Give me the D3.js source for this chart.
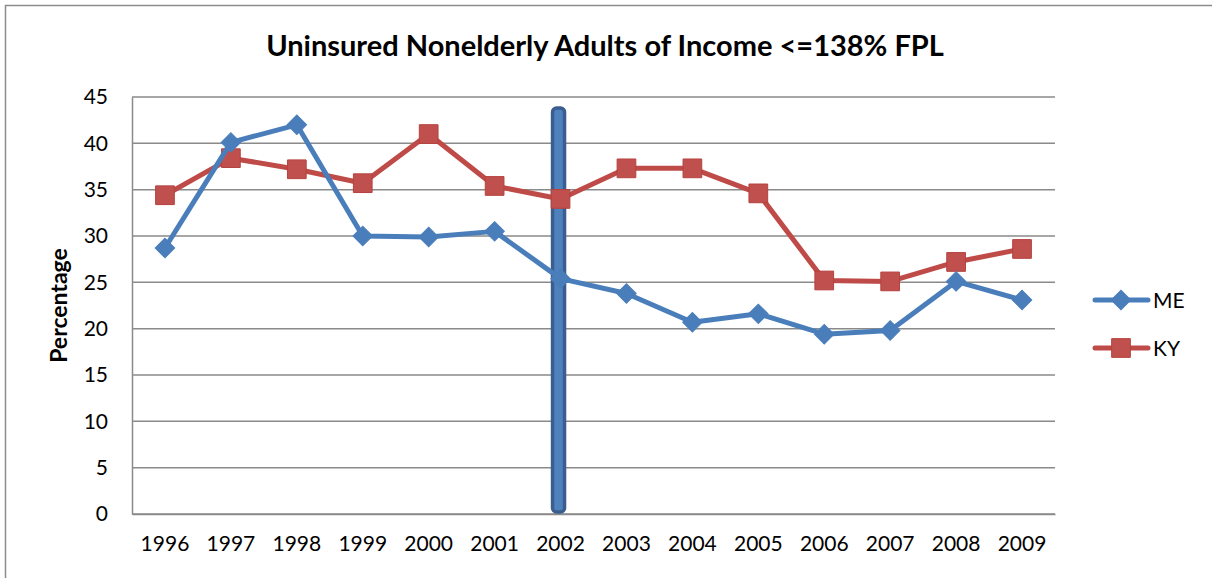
<!DOCTYPE html>
<html>
<head>
<meta charset="utf-8">
<title>Uninsured Nonelderly Adults</title>
<script src="https://cdn.jsdelivr.net/npm/d3@7"></script>
<style>
  body { margin: 0; background: #fff; }
  text { font-family: Lato, "Open Sans", sans-serif; fill: #000; }
</style>
</head>
<body>
<script>
// data
var years = ["1996","1997","1998","1999","2000","2001","2002","2003","2004","2005","2006","2007","2008","2009"];
var meValues = [28.7, 40.1, 42.0, 30.0, 29.9, 30.5, 25.4, 23.8, 20.7, 21.6, 19.4, 19.8, 25.1, 23.1];
var kyValues = [34.4, 38.4, 37.2, 35.7, 41.0, 35.4, 34.0, 37.3, 37.3, 34.6, 25.2, 25.1, 27.2, 28.6];
var yTicks = [0, 5, 10, 15, 20, 25, 30, 35, 40, 45];
var markerYear = "2002";
var markerTop = 43.8;

var W = 1212, H = 578;
var plotLeft = 132, plotRight = 1055, plotTop = 97, plotBottom = 514;

var svg = d3.select("body").append("svg").attr("width", W).attr("height", H);

// chart border
svg.append("rect").attr("x", 5.5).attr("y", 5.5).attr("width", W + 20).attr("height", H + 20)
  .attr("fill", "none").attr("stroke", "#8c8c8c").attr("stroke-width", 1.5);

var x = d3.scaleBand().domain(years).range([plotLeft, plotRight]);
var y = d3.scaleLinear().domain([0, 45]).range([plotBottom, plotTop]);
var cx = function(d) { return x(d) + x.bandwidth() / 2; };

// gridlines
svg.append("g").selectAll("line").data(yTicks).enter().append("line")
  .attr("x1", plotLeft).attr("x2", plotRight)
  .attr("y1", function(d) { return y(d); }).attr("y2", function(d) { return y(d); })
  .attr("stroke", "#8a8a8a").attr("stroke-width", 1.5);

// axes
var yAxis = svg.append("g").attr("transform", "translate(" + plotLeft + ",0)")
  .call(d3.axisLeft(y).tickValues(yTicks).tickSize(0).tickPadding(24));
yAxis.select(".domain").attr("stroke", "#8a8a8a").attr("stroke-width", 1.5);
yAxis.selectAll("text").style("font-size", "21px").attr("font-family", null);

var xAxis = svg.append("g").attr("transform", "translate(0," + plotBottom + ")")
  .call(d3.axisBottom(x).tickSize(0).tickPadding(22));
xAxis.select(".domain").attr("stroke", "#8a8a8a").attr("stroke-width", 1.5);
xAxis.selectAll("text").style("font-size", "21px").attr("font-family", null);

// vertical marker bar at 2002
svg.append("rect")
  .attr("x", cx(markerYear) - 8).attr("y", y(markerTop))
  .attr("width", 12).attr("height", y(0) - y(markerTop) - 2)
  .attr("rx", 4)
  .attr("fill", "#4f81bd").attr("stroke", "#3a5f8f").attr("stroke-width", 3.5);

var line = d3.line().x(function(d, i) { return cx(years[i]); }).y(function(d) { return y(d); });

var series = [
  { name: "ME", values: meValues, color: "#4a7ebb", marker: "diamond" },
  { name: "KY", values: kyValues, color: "#be4b48", marker: "square" }
];

var symDiamond = d3.symbol().type(d3.symbolSquare).size(190);
var symSquare = d3.symbol().type(d3.symbolSquare).size(350);

function drawMarker(g, s, px, py) {
  if (s.marker === "diamond") {
    g.append("path").attr("d", symDiamond())
      .attr("transform", "translate(" + px + "," + py + ") rotate(45)")
      .attr("fill", s.color).attr("stroke", s.color).attr("stroke-width", 1);
  } else {
    g.append("path").attr("d", symSquare())
      .attr("transform", "translate(" + px + "," + py + ")")
      .attr("fill", "#c0504d").attr("stroke", "#b5423f").attr("stroke-width", 1);
  }
}

// KY first, then ME on top
[series[1], series[0]].forEach(function(s) {
  svg.append("path").datum(s.values).attr("d", line)
    .attr("fill", "none").attr("stroke", s.color).attr("stroke-width", 5)
    .attr("stroke-linejoin", "round");
  var g = svg.append("g");
  s.values.forEach(function(v, i) { drawMarker(g, s, cx(years[i]), y(v)); });
});

// legend
series.forEach(function(s, i) {
  var ly = 300 + i * 48;
  svg.append("line").attr("x1", 1095).attr("x2", 1148).attr("y1", ly).attr("y2", ly)
    .attr("stroke", s.color).attr("stroke-width", 5).attr("stroke-linecap", "round");
  drawMarker(svg, s, 1121, ly);
  svg.append("text").attr("x", 1153).attr("y", ly + 8).style("font-size", "21px").text(s.name);
});

// title
svg.append("text").attr("x", 605).attr("y", 56).attr("text-anchor", "middle")
  .style("font-size", "29px").style("font-weight", "bold")
  .text("Uninsured Nonelderly Adults of Income <=138% FPL");

// y axis label
svg.append("text").attr("transform", "translate(67," + (plotTop + plotBottom) / 2 + ") rotate(-90)")
  .attr("text-anchor", "middle").style("font-size", "23px").style("font-weight", "bold")
  .text("Percentage");
</script>
</body>
</html>
